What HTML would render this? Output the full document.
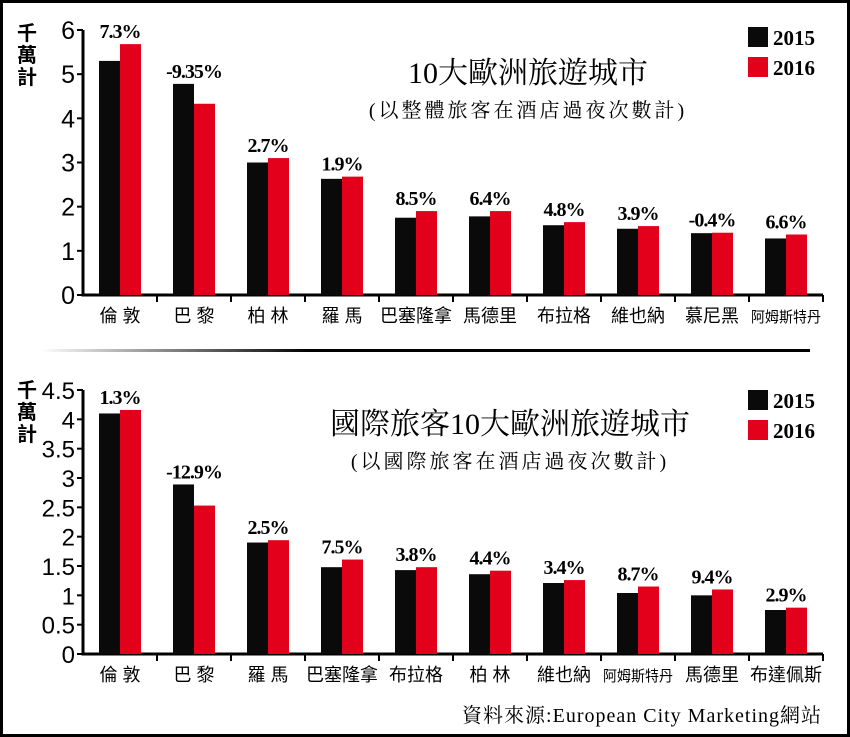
<!DOCTYPE html>
<html><head><meta charset="utf-8"><style>
body{margin:0;background:#fff}
svg{display:block}
.cjk{font-family:"Liberation Sans","Noto Sans CJK TC",sans-serif}
.ser{font-family:"Liberation Serif","Noto Serif CJK SC",serif}
</style></head><body>
<svg id="c" width="850" height="737" xmlns="http://www.w3.org/2000/svg">
<defs><linearGradient id="g" x1="0" x2="1"><stop offset="0" stop-color="#fff"/><stop offset="0.35" stop-color="#000"/><stop offset="1" stop-color="#000"/></linearGradient></defs>
<rect x="1.5" y="1.5" width="847" height="734" fill="#fff" stroke="#000" stroke-width="3"/>
<rect x="40" y="349" width="770" height="3" fill="url(#g)"/>
</svg>
<script>
const cats1=["倫 敦","巴 黎","柏 林","羅 馬","巴塞隆拿","馬德里","布拉格","維也納","慕尼黑","阿姆斯特丹"];
const v2015a=[5.3,4.78,3.0,2.63,1.75,1.78,1.58,1.5,1.4,1.28];
const v2016a=[5.68,4.33,3.1,2.68,1.9,1.9,1.65,1.56,1.41,1.37];
const pct1=["7.3%","-9.35%","2.7%","1.9%","8.5%","6.4%","4.8%","3.9%","-0.4%","6.6%"];
const ticks1=["0","1","2","3","4","5","6"];
const cats2=["倫 敦","巴 黎","羅 馬","巴塞隆拿","布拉格","柏 林","維也納","阿姆斯特丹","馬德里","布達佩斯"];
const v2015b=[4.1,2.89,1.9,1.48,1.43,1.36,1.21,1.04,1.0,0.75];
const v2016b=[4.16,2.53,1.94,1.61,1.48,1.42,1.26,1.15,1.1,0.79];
const pct2=["1.3%","-12.9%","2.5%","7.5%","3.8%","4.4%","3.4%","8.7%","9.4%","2.9%"];
const ticks2=["0","0.5","1","1.5","2","2.5","3","3.5","4","4.5"];
const svg=document.getElementById('c');
const NS="http://www.w3.org/2000/svg";
function mk(t,a,txt){const e=document.createElementNS(NS,t);for(const k in a)e.setAttribute(k,a[k]);if(txt!=null)e.textContent=txt;svg.appendChild(e);return e;}
function chart(o){
  const x0=83,step=74,bw=21;
  const y=v=>o.y0-(v/o.max)*(o.y0-o.ytop);
  o.ticks.forEach(t=>{const yy=y(+t);
    const l=mk('line',{x1:x0-6,x2:x0,y1:yy,y2:yy,stroke:'#000','stroke-width':2});
    
    const tx=mk('text',{x:x0-8,y:yy+9,'text-anchor':'end','font-size':o.tfs,'font-family':'Liberation Sans,sans-serif'},t);
    });
  const ax=mk('path',{d:`M${x0} ${o.ytop}V${o.y0}H${x0+step*10}`,stroke:'#000','stroke-width':3,fill:'none'});
  
  o.cats.forEach((c,i)=>{
    const gx=x0+i*step, cx=gx+step/2;
    const t=mk('line',{x1:gx+step,x2:gx+step,y1:o.y0,y2:o.y0+7,stroke:'#000','stroke-width':2});
    
    const b1=mk('rect',{x:cx-bw,y:y(o.a[i]),width:bw,height:o.y0-y(o.a[i]),fill:'#0a0a0a'});
    
    const b2=mk('rect',{x:cx,y:y(o.b[i]),width:bw,height:o.y0-y(o.b[i]),fill:'#e3001b'});
    
    const top=Math.min(y(o.a[i]),y(o.b[i]));
    const p=mk('text',{x:cx,y:top-6,'text-anchor':'middle','font-size':20,'font-weight':'bold','font-family':'Liberation Serif,serif','letter-spacing':'-1'},o.p[i]);
    
    const cl=mk('text',{x:cx,y:o.y0+27,'text-anchor':'middle','font-size':c.length>4?15:18,'class':'cjk','textLength':c.length>4?70:null});
    cl.textContent=c;if(c.length<=4)cl.removeAttribute('textLength');else cl.setAttribute('lengthAdjust','spacingAndGlyphs');
    
  });
  ['千','萬','計'].forEach((ch,k)=>{const u=mk('text',{x:27,y:o.uy+k*22,'text-anchor':'middle','font-size':20,'font-weight':'bold','class':'cjk'},ch);
    });
  [['#0a0a0a','2015',0],['#e3001b','2016',30]].forEach(([col,lab,dy])=>{
    const r=mk('rect',{x:748,y:o.ly+dy,width:20,height:20,fill:col});
    const t=mk('text',{x:773,y:o.ly+dy+18,'font-size':21,'font-weight':'bold','class':'ser'},lab);});
  const ti=mk('text',{x:o.tx,y:o.ty,'text-anchor':'middle','font-size':30,'class':'ser'},o.title);
  const st=mk('text',{x:o.tx,y:o.ty+34,'text-anchor':'middle','font-size':20,'class':'ser','letter-spacing':'3'},o.sub);
}
chart({cats:cats1,a:v2015a,b:v2016a,p:pct1,ticks:ticks1,max:6,y0:295,ytop:30,tfs:25,uy:40,ly:27,tx:528,ty:83,title:"10大歐洲旅遊城市",sub:"(以整體旅客在酒店過夜次數計)"});
chart({cats:cats2,a:v2015b,b:v2016b,p:pct2,ticks:ticks2,max:4.5,y0:654,ytop:390,tfs:24,uy:397,ly:390,tx:510,ty:434,title:"國際旅客10大歐洲旅遊城市",sub:"(以國際旅客在酒店過夜次數計)"});
const src=mk('text',{x:822,y:722,'text-anchor':'end','font-size':20,'class':'ser','letter-spacing':'1'},"資料來源:European City Marketing網站");

</script>
</body></html>
